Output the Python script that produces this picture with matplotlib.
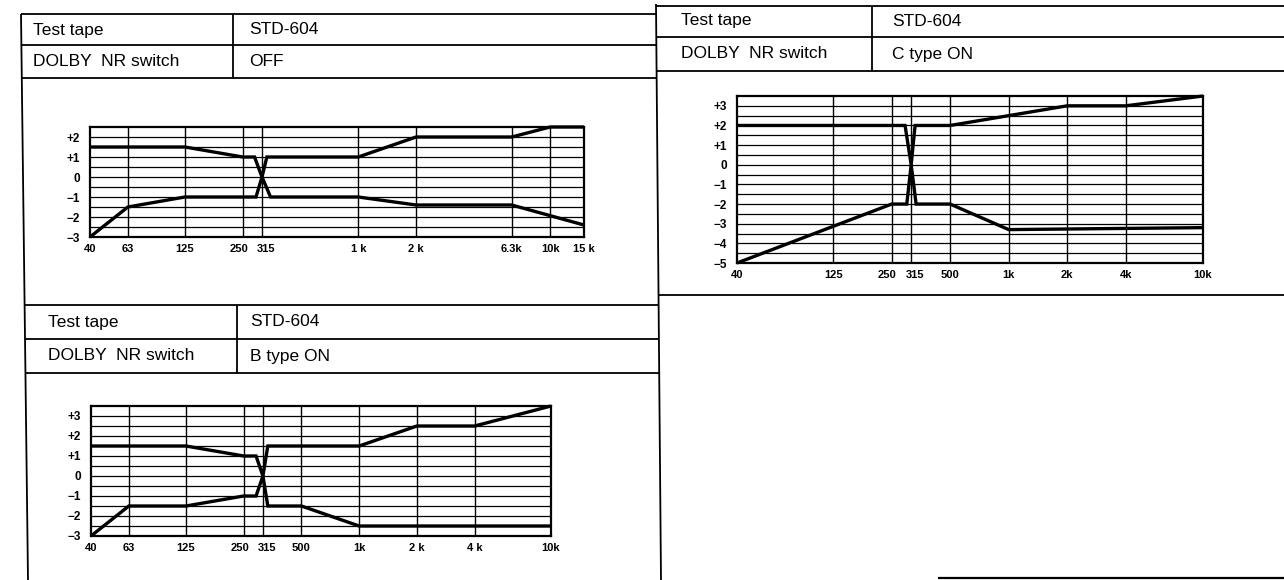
import numpy as np
import matplotlib
matplotlib.use("Agg")
import matplotlib.pyplot as plt
from matplotlib.ticker import FixedLocator, FixedFormatter, NullLocator
from matplotlib.transforms import ScaledTranslation

plt.rcParams['font.family'] = ['Liberation Sans', 'DejaVu Sans']

# ---------------- data ----------------
# Dolby NR OFF
off_ticks = [40, 63, 125, 250, 315, 1000, 2000, 6300, 10000, 15000]
off_labels = ["40", "63", "125", "250", "315", "1 k", "2 k", "6.3k", "10k", "15 k"]
off_upper_f = [40, 125, 250, 288, 315, 334, 1000, 2000, 6300, 10000, 15000]
off_upper_db = [1.5, 1.5, 1.0, 1.0, 0.0, 1.0, 1.0, 2.0, 2.0, 2.5, 2.5]
off_lower_f = [40, 63, 125, 293, 315, 349, 1000, 2000, 6300, 15000]
off_lower_db = [-3.0, -1.5, -1.0, -1.0, 0.0, -1.0, -1.0, -1.4, -1.4, -2.4]
off_yticks = [2, 1, 0, -1, -2, -3]
off_ylabels = ["+2", "+1", "0", "\u22121", "\u22122", "\u22123"]

# Dolby C type ON
c_ticks = [40, 125, 250, 315, 500, 1000, 2000, 4000, 10000]
c_labels = ["40", "125", "250", "315", "500", "1k", "2k", "4k", "10k"]
c_upper_f = [40, 293, 315, 330, 500, 2000, 4000, 10000]
c_upper_db = [2.0, 2.0, 0.0, 2.0, 2.0, 3.0, 3.0, 3.5]
c_lower_f = [40, 250, 299, 315, 334, 500, 1000, 10000]
c_lower_db = [-5.0, -2.0, -2.0, 0.0, -2.0, -2.0, -3.3, -3.2]
c_yticks = [3, 2, 1, 0, -1, -2, -3, -4, -5]
c_ylabels = ["+3", "+2", "+1", "0", "\u22121", "\u22122", "\u22123", "\u22124", "\u22125"]

# Dolby B type ON
b_ticks = [40, 63, 125, 250, 315, 500, 1000, 2000, 4000, 10000]
b_labels = ["40", "63", "125", "250", "315", "500", "1k", "2 k", "4 k", "10k"]
b_upper_f = [40, 125, 250, 290, 315, 334, 1000, 2000, 4000, 10000]
b_upper_db = [1.5, 1.5, 1.0, 1.0, 0.0, 1.5, 1.5, 2.5, 2.5, 3.5]
b_lower_f = [40, 63, 125, 250, 290, 315, 334, 500, 1000, 10000]
b_lower_db = [-3.0, -1.5, -1.5, -1.0, -1.0, 0.0, -1.5, -1.5, -2.5, -2.5]
b_yticks = [3, 2, 1, 0, -1, -2, -3]
b_ylabels = ["+3", "+2", "+1", "0", "\u22121", "\u22122", "\u22123"]

tape_name = "STD-604"
switch_caption = "DOLBY  NR switch"
tape_caption = "Test tape"
switch_states = ["OFF", "C type ON", "B type ON"]

# ---------------- figure ----------------
W, H = 1284, 580
fig = plt.figure(figsize=(W / 100, H / 100), dpi=100)
fig.patch.set_facecolor("white")


def px_rect(x0, y0, x1, y1):
    return [x0 / W, 1 - y1 / H, (x1 - x0) / W, (y1 - y0) / H]


# pixel-space layer for the table rules and captions
ov = fig.add_axes([0, 0, 1, 1], zorder=0)
ov.set_xlim(0, W)
ov.set_ylim(H, 0)
ov.axis("off")


def seg(x0, y0, x1, y1, lw=1.3):
    ov.plot([x0, x1], [y0, y1], color="black", lw=lw, solid_capstyle="butt")


def left_x(y):
    return 21 + (28 - 21) * (y - 14) / (580 - 14)


def mid_x(y):
    return 656 + (661 - 656) * (y - 4) / (580 - 4)


# outer verticals
seg(left_x(14), 14, left_x(580), 580)
seg(mid_x(4), 4, mid_x(580), 580)

# table: OFF
for y in (14, 45, 78):
    seg(left_x(y), y, mid_x(y), y)
seg(233, 14, 233, 78)
# table: C type
for y in (6, 37, 71):
    seg(mid_x(y), y, W, y)
seg(872, 6, 872, 71)
seg(mid_x(295), 295, W, 295)
# table: B type
for y in (305, 339, 373):
    seg(left_x(y), y, mid_x(y), y)
seg(237, 305, 237, 373)
# stray rule at the bottom right
seg(938, 578, W, 578, lw=1.6)

TXT = dict(fontsize=12.5, va="center", ha="left", color="black")
heads = [((33, 30), (249, 30), (33, 62), (249, 62)),
         ((681, 21), (892, 21), (681, 54), (892, 54)),
         ((48, 322), (250, 322), (48, 356), (250, 356))]
for (p1, p2, p3, p4), state in zip(heads, switch_states):
    ov.text(*p1, tape_caption, **TXT)
    ov.text(*p2, tape_name, **TXT)
    ov.text(*p3, switch_caption, **TXT)
    ov.text(*p4, state, **TXT)

# nudges (points) for the crowded 250 / 315 labels
LABEL_NUDGE = {"250": -3.0, "315": 3.0}


def chart(box, ticks, labels, ylim, yticks, ylabels, up_f, up_db, lo_f, lo_db):
    ax = fig.add_axes(px_rect(*box), zorder=2)
    ax.set_facecolor("none")
    ax.set_xscale("log")
    ax.set_xlim(ticks[0], ticks[-1])
    ax.set_ylim(*ylim)
    for f in ticks[1:-1]:
        ax.axvline(f, color="black", lw=1.0, zorder=1)
    for y in np.arange(ylim[0] + 0.5, ylim[1] - 0.01, 0.5):
        ax.axhline(y, color="black", lw=0.9, zorder=1)
    for fx, db in ((up_f, up_db), (lo_f, lo_db)):
        ax.plot(fx, db, color="black", lw=2.4, zorder=3, clip_on=False,
                solid_joinstyle="miter", solid_capstyle="butt")
    ax.xaxis.set_major_locator(FixedLocator(ticks))
    ax.xaxis.set_major_formatter(FixedFormatter(labels))
    ax.xaxis.set_minor_locator(NullLocator())
    ax.yaxis.set_major_locator(FixedLocator(yticks))
    ax.yaxis.set_major_formatter(FixedFormatter(ylabels))
    ax.tick_params(axis="x", length=0, labelsize=8)
    ax.tick_params(axis="y", length=0, labelsize=8.5)
    ax.tick_params(axis="x", pad=5)
    ax.tick_params(axis="y", pad=7)
    for t in ax.get_xticklabels() + ax.get_yticklabels():
        t.set_fontweight("bold")
    for tick, lab in zip(ax.xaxis.get_major_ticks(), labels):
        dx = LABEL_NUDGE.get(lab)
        if dx:
            lbl = tick.label1
            lbl.set_transform(lbl.get_transform()
                              + ScaledTranslation(dx / 72, 0, fig.dpi_scale_trans))
    for sp in ax.spines.values():
        sp.set_linewidth(1.6)
    return ax


chart((90, 127, 584, 237), off_ticks, off_labels, (-3, 2.5), off_yticks, off_ylabels,
      off_upper_f, off_upper_db, off_lower_f, off_lower_db)
chart((737, 96, 1203, 263), c_ticks, c_labels, (-5, 3.5), c_yticks, c_ylabels,
      c_upper_f, c_upper_db, c_lower_f, c_lower_db)
chart((91, 406, 551, 536), b_ticks, b_labels, (-3, 3.5), b_yticks, b_ylabels,
      b_upper_f, b_upper_db, b_lower_f, b_lower_db)

fig.savefig("out.png", dpi=100, facecolor="white")
